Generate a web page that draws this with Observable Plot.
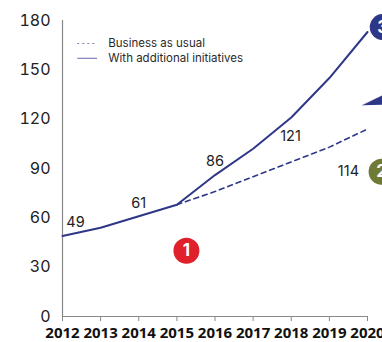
<!DOCTYPE html>
<html>
<head>
<meta charset="utf-8">
<script src="https://cdn.jsdelivr.net/npm/d3@7"></script>
<script src="https://cdn.jsdelivr.net/npm/@observablehq/plot@0.6"></script>
<style>
  html, body { margin: 0; padding: 0; background: #fff; overflow: hidden; }
  #chart svg { display: block; font-family: Inter, "Open Sans", sans-serif; }
</style>
</head>
<body>
<div id="chart"></div>
<script>
// ---- data ----
const years = [2012, 2013, 2014, 2015, 2016, 2017, 2018, 2019, 2020];
const withInitiatives = [49, 54, 61, 68, 86, 102, 121, 145, 173];
const businessYears = [2015, 2016, 2017, 2018, 2019, 2020];
const businessAsUsual = [68, 76, 85, 94, 103, 114];
const yTicks = [0, 30, 60, 90, 120, 150, 180];
const valueLabels = ["49", "61", "86", "121", "114"];
const valueLabelX = [2012.34, 2014.0, 2016.0, 2017.98, 2019.5];
const valueLabelY = [57, 68.5, 94.5, 109.5, 88.5];
const badgeLabels = ["1", "2", "3"];
const badgeX = [2015.25, 2020.37, 2020.4];
const badgeY = [40, 88, 176];
const badgeColors = ["#e0212b", "#6f7b35", "#2e3787"];
const arrowX = [2019.87, 2020.45, 2020.45];
const arrowY = [128.5, 135, 128.8];
const legendNames = ["Business as usual", "With additional initiatives"];
const legendY = [166, 157];

const navy = "#2e3787";

const solid = years.map((y, i) => ({year: y, value: withInitiatives[i]}));
const dashed = businessYears.map((y, i) => ({year: y, value: businessAsUsual[i]}));
const labels = valueLabels.map((t, i) => ({t, x: valueLabelX[i], y: valueLabelY[i]}));
const badges = badgeLabels.map((t, i) => ({t, x: badgeX[i], y: badgeY[i], c: badgeColors[i]}));
const arrow = arrowX.map((x, i) => ({x, y: arrowY[i]}));
const legend = legendNames.map((name, i) => ({name, y: legendY[i]}));

const chart = Plot.plot({
  width: 382,
  height: 342,
  marginLeft: 62,
  marginRight: 15,
  marginTop: 20,
  marginBottom: 26,
  x: {domain: [2012, 2020]},
  y: {domain: [0, 180]},
  style: {overflow: "visible"},
  marks: [
    Plot.axisY({ticks: yTicks, tickSize: 0, tickPadding: 12, fontSize: 16, fill: "#222", label: null}),
    Plot.axisX({ticks: years, tickFormat: d => String(d), tickSize: 5, tickPadding: 6, fontSize: 15, fontWeight: "bold",
      fontFamily: "'Open Sans', sans-serif", fill: "#111", stroke: "#888", label: null}),
    Plot.ruleX([2012], {stroke: "#888", strokeWidth: 1.2}),
    Plot.ruleY([0], {stroke: "#888", strokeWidth: 1.2}),
    // legend
    Plot.ruleY([legend[0]], {y: "y", x1: 2012.4, x2: 2012.92, stroke: "#7f7fb9", strokeWidth: 1.2, strokeDasharray: "2,3"}),
    Plot.ruleY([legend[1]], {y: "y", x1: 2012.4, x2: 2012.92, stroke: "#7f7fb9", strokeWidth: 1.2}),
    Plot.text(legend, {y: "y", x: 2013.2, text: "name", textAnchor: "start", fontSize: 11.5, fill: "#2a2a2a"}),
    // lines
    Plot.line(dashed, {x: "year", y: "value", stroke: navy, strokeWidth: 1.6, strokeDasharray: "5,4"}),
    Plot.line(solid, {x: "year", y: "value", stroke: navy, strokeWidth: 2}),
    Plot.text(labels, {x: "x", y: "y", text: "t", fontSize: 14.5, fill: "#222"}),
    // arrow
    Plot.line(arrow, {x: "x", y: "y", fill: navy, stroke: navy, strokeWidth: 0.5, clip: false}),
    // badges
    Plot.dot(badges, {x: "x", y: "y", r: 13, fill: "c", clip: false}),
    Plot.text(badges, {x: "x", y: "y", text: "t", fill: "white", fontSize: 17, fontWeight: "bold", clip: false})
  ]
});
document.getElementById("chart").appendChild(chart);
</script>
</body>
</html>
